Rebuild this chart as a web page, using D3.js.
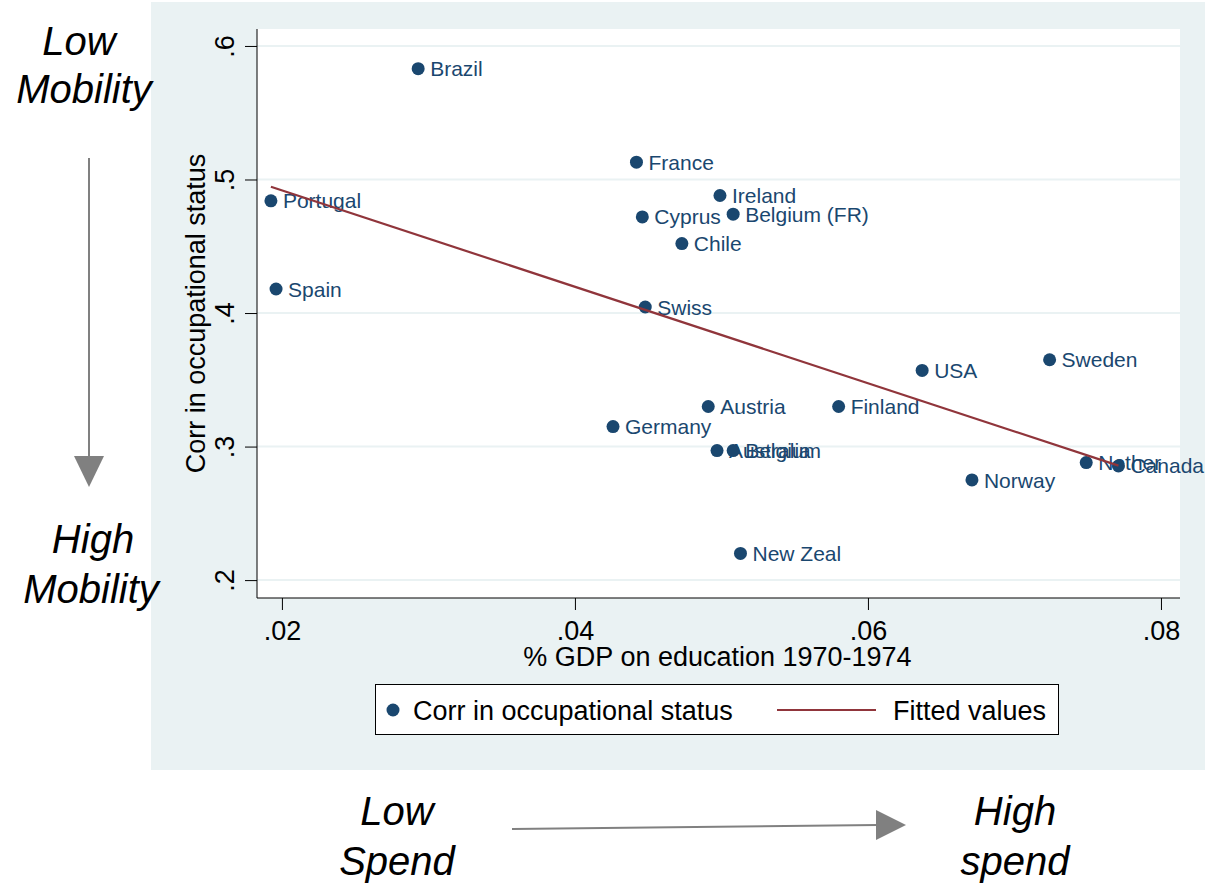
<!DOCTYPE html>
<html>
<head>
<meta charset="utf-8">
<script src="https://cdn.jsdelivr.net/npm/d3@7"></script>
<style>
  body { margin: 0; background: #fff; }
  text { font-family: "Liberation Sans", Arial, sans-serif; }
</style>
</head>
<body>
<div id="chart-area"></div>
<script>
// data
const countries = ['Brazil', 'France', 'Portugal', 'Ireland', 'Belgium (FR)', 'Cyprus', 'Chile', 'Spain',
  'Swiss', 'USA', 'Sweden', 'Austria', 'Finland', 'Germany', 'Australia', 'Belgium', 'Norway',
  'Nether', 'Canada', 'New Zeal']
const gdpEdu = [0.0293, 0.0442, 0.01925, 0.0499, 0.0508, 0.0446, 0.0473, 0.0196,
  0.0448, 0.0637, 0.0724, 0.0491, 0.0580, 0.0426, 0.0497, 0.0508, 0.0671,
  0.0749, 0.0771, 0.0513]
const corrOcc = [0.583, 0.513, 0.484, 0.488, 0.474, 0.472, 0.452, 0.418,
  0.4045, 0.357, 0.365, 0.330, 0.330, 0.315, 0.297, 0.297, 0.275,
  0.288, 0.2855, 0.220]
const xTicks = [0.02, 0.04, 0.06, 0.08]
const yTicks = [0.2, 0.3, 0.4, 0.5, 0.6]

const W = 1205, H = 891
const plot = {left: 257, right: 1180, top: 29, bottom: 598}
const navy = '#1a476f'
const maroon = '#90353b'
const panelBg = '#eaf2f3'

const svg = d3.select('#chart-area').append('svg')
  .attr('width', W)
  .attr('height', H)

// gray graph region + white plot region
svg.append('rect').attr('x', 151).attr('y', 2).attr('width', W - 151).attr('height', 768)
  .attr('fill', panelBg)
svg.append('rect').attr('x', plot.left).attr('y', plot.top)
  .attr('width', plot.right - plot.left).attr('height', plot.bottom - plot.top)
  .attr('fill', '#fff')

const x = d3.scaleLinear()
  .domain([0.0183, 0.0813])
  .range([plot.left, plot.right])

const y = d3.scaleLinear()
  .domain([0.1866, 0.6127])
  .range([plot.bottom, plot.top])

const noZero = d => d3.format(d < 0.1 ? '.2f' : '.1f')(d).replace(/^0/, '')

// gridlines
svg.append('g')
  .selectAll('line')
  .data(yTicks)
  .join('line')
    .attr('x1', plot.left).attr('x2', plot.right)
    .attr('y1', d => y(d)).attr('y2', d => y(d))
    .attr('stroke', panelBg).attr('stroke-width', 2)

const yAxisCall = d3.axisLeft(y).tickValues(yTicks).tickSize(12).tickSizeOuter(0).tickFormat(noZero)
const yAxis = svg.append('g')
  .attr('transform', `translate(${plot.left},0)`)
  .call(yAxisCall)
yAxis.select('.domain').attr('stroke', '#000').attr('d', `M0,${plot.top}V${plot.bottom}`)
yAxis.selectAll('.tick line').attr('stroke', '#000')
yAxis.selectAll('text')
  .attr('transform', 'rotate(-90)')
  .attr('x', 0).attr('y', -23).attr('dy', 0)
  .attr('text-anchor', 'middle')
  .attr('font-size', 27).attr('font-family', '"Liberation Sans", Arial, sans-serif')
  .attr('fill', '#000')

const xAxisCall = d3.axisBottom(x).tickValues(xTicks).tickSize(12).tickSizeOuter(0).tickFormat(noZero)
const xAxis = svg.append('g')
  .attr('transform', `translate(0,${plot.bottom})`)
  .call(xAxisCall)
xAxis.select('.domain').attr('stroke', '#000').attr('d', `M${plot.left},0H${plot.right}`)
xAxis.selectAll('.tick line').attr('stroke', '#000')
xAxis.selectAll('text')
  .attr('y', 0).attr('dy', 42)
  .attr('font-size', 27).attr('font-family', '"Liberation Sans", Arial, sans-serif')
  .attr('fill', '#000')

// axis titles
svg.append('text')
  .attr('x', (plot.left + plot.right) / 2 - 1).attr('y', 666)
  .attr('text-anchor', 'middle').attr('font-size', 27)
  .text('% GDP on education 1970-1974')

svg.append('text')
  .attr('transform', `translate(205,${(plot.top + plot.bottom) / 2}) rotate(-90)`)
  .attr('text-anchor', 'middle').attr('font-size', 27)
  .text('Corr in occupational status')

// points + labels
const pts = countries.map((c, i) => ({name: c, gx: gdpEdu[i], cy: corrOcc[i]}))
const pg = svg.append('g')
pg.selectAll('circle')
  .data(pts)
  .join('circle')
    .attr('cx', d => x(d.gx))
    .attr('cy', d => y(d.cy))
    .attr('r', 6.5)
    .attr('fill', navy)
pg.selectAll('text')
  .data(pts)
  .join('text')
    .attr('x', d => x(d.gx) + 12)
    .attr('y', d => y(d.cy))
    .attr('dy', '0.36em')
    .attr('font-size', 21)
    .attr('fill', navy)
    .text(d => d.name)

// fitted values (OLS)
const mx = d3.mean(gdpEdu), my = d3.mean(corrOcc)
const slope = d3.sum(gdpEdu, (v, i) => (v - mx) * (corrOcc[i] - my)) / d3.sum(gdpEdu, v => (v - mx) ** 2)
const fit = d3.extent(gdpEdu).map(v => [v, my + slope * (v - mx)])
svg.append('path')
  .attr('d', d3.line().x(d => x(d[0])).y(d => y(d[1]))(fit))
  .attr('stroke', maroon).attr('stroke-width', 2.2).attr('fill', 'none')

// legend
const lg = svg.append('g')
lg.append('rect').attr('x', 375.5).attr('y', 684.5).attr('width', 683).attr('height', 50)
  .attr('fill', '#fff').attr('stroke', '#000').attr('stroke-width', 1)
lg.append('circle').attr('cx', 393).attr('cy', 710).attr('r', 6.5).attr('fill', navy)
lg.append('text').attr('x', 413).attr('y', 720).attr('font-size', 27).text('Corr in occupational status')
lg.append('line').attr('x1', 777).attr('x2', 876).attr('y1', 710).attr('y2', 710)
  .attr('stroke', maroon).attr('stroke-width', 2.2)
lg.append('text').attr('x', 893).attr('y', 720).attr('font-size', 27).text('Fitted values')

// annotations
const ann = svg.append('g').attr('font-style', 'italic').attr('font-size', 40).attr('text-anchor', 'middle')
ann.append('text').attr('x', 79).attr('y', 55).text('Low')
ann.append('text').attr('x', 84).attr('y', 103).text('Mobility')
ann.append('text').attr('x', 93).attr('y', 553).text('High')
ann.append('text').attr('x', 91).attr('y', 603).text('Mobility')
ann.append('text').attr('x', 397).attr('y', 825).text('Low')
ann.append('text').attr('x', 397).attr('y', 875).text('Spend')
ann.append('text').attr('x', 1015).attr('y', 825).text('High')
ann.append('text').attr('x', 1015).attr('y', 875).text('spend')

const arrowGray = '#808080'
svg.append('line').attr('x1', 89).attr('x2', 89).attr('y1', 158).attr('y2', 458)
  .attr('stroke', arrowGray).attr('stroke-width', 2)
svg.append('path').attr('d', 'M74,456L104,456L89,487Z').attr('fill', arrowGray)
svg.append('line').attr('x1', 512).attr('x2', 878).attr('y1', 829).attr('y2', 825)
  .attr('stroke', arrowGray).attr('stroke-width', 2)
svg.append('path').attr('d', 'M876,810L906,825L876,840Z').attr('fill', arrowGray)
</script>
</body>
</html>
